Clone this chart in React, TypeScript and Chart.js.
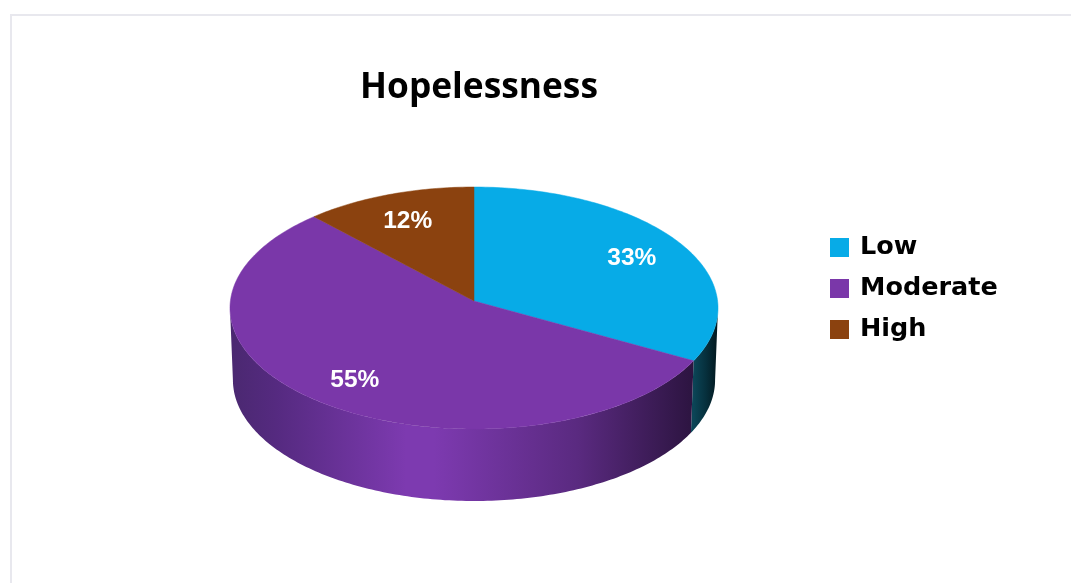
import React, { useEffect, useRef } from "react";
import { Chart, registerables } from "chart.js";

Chart.register(...registerables);

const categories = ["Low", "Moderate", "High"];
const values = [33, 55, 12];
const sliceColors = ["#07ABE7", "#7A37A9", "#8B420F"];
const chartTitle = "Hopelessness";

// Projective view of the unit circle, so the pie looks tilted towards the viewer.
const CX = 474;
const CY = 301;
const A = 243.6;
const B = 120.6;
const K = 0.0579;
const DEPTH = 72;
const BOTTOM_SCALE = 0.988;

function project(angle: number, f = 1) {
  const x = Math.cos(angle) * f;
  const y = Math.sin(angle) * f;
  const w = 1 - K * y;
  return { x: (A * x) / w, y: (B * y) / w };
}

function tracePie(ctx: CanvasRenderingContext2D, start: number, end: number) {
  const n = Math.max(8, Math.ceil((end - start) * 60));
  ctx.beginPath();
  ctx.moveTo(CX, CY);
  for (let i = 0; i <= n; i++) {
    const p = project(start + ((end - start) * i) / n);
    ctx.lineTo(CX + p.x, CY + p.y);
  }
  ctx.closePath();
}

function traceWall(ctx: CanvasRenderingContext2D, start: number, end: number) {
  const n = Math.max(8, Math.ceil((end - start) * 60));
  ctx.beginPath();
  for (let i = 0; i <= n; i++) {
    const p = project(start + ((end - start) * i) / n);
    ctx.lineTo(CX + p.x, CY + p.y);
  }
  for (let i = n; i >= 0; i--) {
    const p = project(start + ((end - start) * i) / n);
    ctx.lineTo(CX + p.x * BOTTOM_SCALE, CY + DEPTH + p.y);
  }
  ctx.closePath();
}

const wallStops: [number, string][][] = [
  [
    [0, "#0B4557"],
    [0.5, "#06303D"],
    [1, "#02171D"],
  ],
  [
    [0, "#4A2870"],
    [0.1, "#552A80"],
    [0.38, "#7D3AB0"],
    [0.44, "#7D3AB0"],
    [0.75, "#5A2A80"],
    [1, "#2C1440"],
  ],
  [
    [0, "#5A2A0A"],
    [1, "#5A2A0A"],
  ],
];

const pie3d = {
  id: "pie3d",
  afterLayout(chart: any) {
    const t = chart.titleBlock;
    const tw = t.width;
    t.left = 479 - tw / 2;
    t.right = 479 + tw / 2;
    const th = t.height;
    t.top = 67;
    t.bottom = 67 + th;
    const l = chart.legend;
    const lw = l.width;
    const lh = l.height;
    l.left = 816.25;
    l.right = 816.25 + lw;
    l.top = 288.5 - lh / 2;
    l.bottom = 288.5 + lh / 2;
  },
  beforeDraw(chart: any) {
    const ctx = chart.ctx;
    ctx.save();
    ctx.fillStyle = "#E8E8EE";
    ctx.fillRect(10, 14, 1061, 2);
    ctx.fillRect(10, 14, 2, 569);
    ctx.restore();
  },
  beforeDatasetsDraw(chart: any) {
    const ctx: CanvasRenderingContext2D = chart.ctx;
    const arcs = chart.getDatasetMeta(0).data;
    const edge = Math.asin(K);
    const visStart = edge;
    const visEnd = Math.PI - edge;
    ctx.save();
    arcs.forEach((arc: any, i: number) => {
      const a = Math.max(arc.startAngle, visStart);
      const b = Math.min(arc.endAngle, visEnd);
      if (b <= a) return;
      const xa = CX + project(a).x;
      const xb = CX + project(b).x;
      const left = Math.min(xa, xb);
      const right = Math.max(xa, xb);
      const g = ctx.createLinearGradient(left, 0, right, 0);
      wallStops[i].forEach(([s, c]) => g.addColorStop(s, c));
      ctx.fillStyle = g;
      traceWall(ctx, a, b);
      ctx.fill();
    });
    arcs.forEach((arc: any, i: number) => {
      ctx.fillStyle = sliceColors[i];
      ctx.strokeStyle = sliceColors[i];
      ctx.lineWidth = 0.5;
      tracePie(ctx, arc.startAngle, arc.endAngle);
      ctx.fill();
      ctx.stroke();
    });
    ctx.fillStyle = "#FFFFFF";
    ctx.font = 'bold 24.5px "Liberation Sans"';
    ctx.textAlign = "center";
    ctx.textBaseline = "middle";
    arcs.forEach((arc: any, i: number) => {
      const p = project((arc.startAngle + arc.endAngle) / 2, 0.77);
      ctx.fillText(`${values[i]}%`, CX + p.x, CY + p.y + 3);
    });
    ctx.restore();
    return false;
  },
};

export default function App() {
  const ref = useRef<HTMLCanvasElement>(null);
  useEffect(() => {
    document.body.style.margin = "0";
    const chart = new Chart(ref.current!, {
      type: "pie",
      data: {
        labels: categories,
        datasets: [{ data: values, backgroundColor: sliceColors, borderWidth: 0 }],
      },
      options: {
        responsive: false,
        animation: false,
        plugins: {
          title: {
            display: true,
            text: chartTitle,
            color: "#000000",
            font: { family: '"Open Sans"', size: 35.3, weight: "bold" },
            padding: 0,
          },
          legend: {
            position: "right",
            labels: {
              usePointStyle: true,
              pointStyle: "rect",
              boxWidth: 15.5,
              boxHeight: 19,
              padding: 15.5,
              color: "#000000",
              font: { family: '"DejaVu Sans"', size: 25.5, weight: "bold" },
            },
          },
          tooltip: { enabled: false },
        },
      } as any,
      plugins: [pie3d as any],
    });
    return () => chart.destroy();
  }, []);
  return <canvas ref={ref} width={1071} height={583} style={{ display: "block" }} />;
}
